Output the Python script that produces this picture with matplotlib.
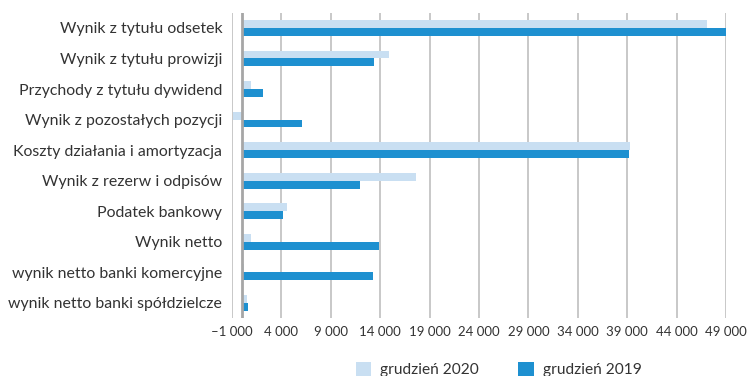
import matplotlib
matplotlib.use("Agg")
import matplotlib.pyplot as plt
import numpy as np

categories = [
    "Wynik z tytułu odsetek",
    "Wynik z tytułu prowizji",
    "Przychody z tytułu dywidend",
    "Wynik z pozostałych pozycji",
    "Koszty działania i amortyzacja",
    "Wynik z rezerw i odpisów",
    "Podatek bankowy",
    "Wynik netto",
    "wynik netto banki komercyjne",
    "wynik netto banki spółdzielcze",
]
values_2020 = [47100, 14900, 950, -900, 39250, 17600, 4560, 950, 170, 510]
values_2019 = [49100, 13400, 2170, 6040, 39200, 12000, 4120, 13870, 13300, 620]
series_labels = ["grudzień 2020", "grudzień 2019"]
xticks = list(range(-1000, 49001, 5000))

def fmt(v):
    s = f"{abs(v):,}".replace(",", " ")
    return ("\u2013" + s) if v < 0 else s

plt.rcParams['font.family'] = ['Lato', 'DejaVu Sans']

fig = plt.figure(figsize=(7.51, 3.76), dpi=100)
ax = fig.add_axes([232/751, 1 - 318/376, (726 - 232)/751, (318 - 12.7)/376])

y = np.arange(len(categories))
h = 0.26
c_light = '#c9dff2'
c_dark = '#1e90d0'
ax.barh(y - h/2, values_2020, height=h, color=c_light, label=series_labels[0], zorder=3)
ax.barh(y + h/2, values_2019, height=h, color=c_dark, label=series_labels[1], zorder=3)

ax.set_xlim(-1000, 49000)
ax.set_ylim(len(categories) - 0.5, -0.5)
ax.set_xticks(xticks)
ax.set_xticklabels([fmt(v) for v in xticks], fontsize=9.5, color='#333333')
ax.set_yticks(y)
ax.set_yticklabels(categories, fontsize=11.4, color='#333333')
ax.tick_params(axis='both', length=0)
ax.tick_params(axis='y', pad=7)
ax.tick_params(axis='x', pad=6)
for s in ax.spines.values():
    s.set_visible(False)
for xv in xticks:
    ax.axvline(xv, color='#c8c8c8', lw=1.4, zorder=1)
ax.axvline(0, color='#a6a6a6', lw=2, zorder=4)

fig.legend(loc='center', bbox_to_anchor=(0.664, 0.018), ncol=2, frameon=False,
           fontsize=11.2, handlelength=1.0, handleheight=1.0, columnspacing=2.5,
           handletextpad=0.6, labelcolor='#333333')

fig.savefig("out.png", dpi=100)
